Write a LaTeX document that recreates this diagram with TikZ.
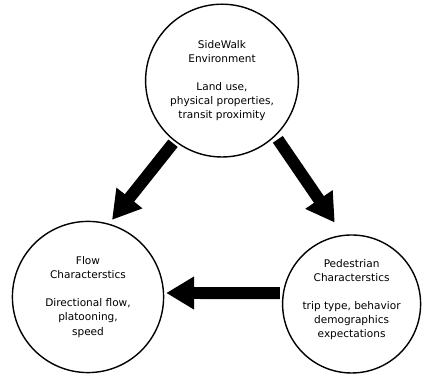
\documentclass[tikz,border=0pt]{standalone}
\usepackage{fontspec}
\setmainfont{DejaVu Sans}
\usepackage{tikz}
\usetikzlibrary{shapes,arrows.meta}
\tikzset{bub/.style={circle,draw,line width=1pt,inner sep=0pt,align=center,font=\fontsize{7.5}{10}\selectfont}}
\tikzset{fat/.style={line width=8.5pt,-{Triangle[length=0.7cm,width=0.78cm]}}}

\begin{document}
\begin{tikzpicture}
    \node[bub,minimum size=3.82cm] (env) at (5.55,7.46) {SideWalk\\Environment\\[10pt]Land use,\\physical properties,\\transit proximity};
    \node[bub,minimum size=3.78cm] (flow) at (2.2,2.05) {Flow\\Characterstics\\[10pt]Directional flow,\\platooning,\\speed};
    \node[bub,minimum size=3.45cm] (ped) at (8.79,1.875) {Pedestrian\\Characterstics\\[10pt]trip type, behavior\\demographics\\expectations\\[-2pt]};
    \useasboundingbox (0,0) rectangle (10.55,9.475);

    \draw [fat,shorten <=0.06cm,shorten >=0.12cm] (env.232) to (flow.74);
    \draw [fat,shorten <=0.1cm,shorten >=0.37cm] (env.314) to (ped.97);
    \draw [fat,shorten <=0.07cm,shorten >=0.05cm] (ped.171) to (flow.3);
\end{tikzpicture}
\end{document}
